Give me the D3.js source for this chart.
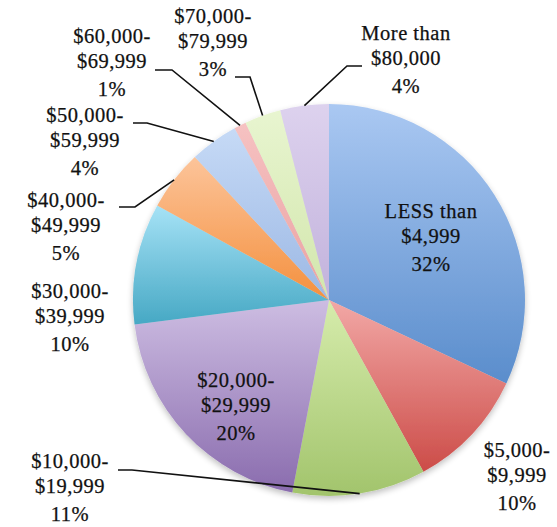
<!DOCTYPE html>
<html>
<head>
<meta charset="utf-8">
<script src="https://cdn.jsdelivr.net/npm/d3@7"></script>
<style>
  body { margin: 0; background: #fff; }
  svg { display: block; }
  .lbl { font-family: "Liberation Serif", "Times New Roman", serif; font-size: 20.5px; letter-spacing: 0.5px; fill: #111; stroke: #111; stroke-width: 0.25px; }
</style>
</head>
<body>
<svg id="chart"></svg>
<script>
// income brackets, clockwise from 12 o'clock
const categories = ["LESS than $4,999", "$5,000-$9,999", "$10,000-$19,999", "$20,000-$29,999", "$30,000-$39,999",
  "$40,000-$49,999", "$50,000-$59,999", "$60,000-$69,999", "$70,000-$79,999", "More than $80,000"];
const values = [32, 10, 11, 20, 10, 5, 4, 1, 3, 4];
const labelLines = [
  ["LESS than", "$4,999", "32%"],
  ["$5,000-", "$9,999", "10%"],
  ["$10,000-", "$19,999", "11%"],
  ["$20,000-", "$29,999", "20%"],
  ["$30,000-", "$39,999", "10%"],
  ["$40,000-", "$49,999", "5%"],
  ["$50,000-", "$59,999", "4%"],
  ["$60,000-", "$69,999", "1%"],
  ["$70,000-", "$79,999", "3%"],
  ["More than", "$80,000", "4%"]
];
const lightColors = ["#aac8f2", "#f2a8a6", "#d6ecac", "#cdbde2", "#a6e2f6", "#fcc49a", "#c6daf6", "#f6c2c2", "#e8f5d0", "#ddd2ee"];
const darkColors  = ["#5a8dcc", "#cc4c48", "#a2c46c", "#8a6cae", "#46a8c4", "#f4903e", "#9cb8e4", "#eaa2a2", "#d2e6ac", "#c2b2dc"];

// label layout: text centre x, first baseline y, optional leader elbow [x0,y0,x1,y1]
const labelLayout = [
  { x: 431, y: 218, leader: null },
  { x: 517, y: 457, leader: null },
  { x: 70, y: 468, leader: [118, 470, 132, 470] },
  { x: 236, y: 387, leader: null },
  { x: 70, y: 298, leader: null },
  { x: 66, y: 207, leader: [119, 207, 135, 207] },
  { x: 85, y: 122, leader: [133, 123, 147, 123] },
  { x: 112, y: 43, leader: [155, 70, 172, 70] },
  { x: 213, y: 23, leader: [235, 77, 250, 77] },
  { x: 406, y: 40, leader: [362, 66, 347, 66] }
];

const width = 557, height = 527;
const cx = 329, cy = 300, r = 196;

const svg = d3.select("#chart").attr("width", width).attr("height", height);
const defs = svg.append("defs");

const shadow = defs.append("filter").attr("id", "pieShadow").attr("x", "-10%").attr("y", "-10%").attr("width", "120%").attr("height", "125%");
shadow.append("feGaussianBlur").attr("in", "SourceAlpha").attr("stdDeviation", 3);
shadow.append("feOffset").attr("dx", 0).attr("dy", 3).attr("result", "blur");
shadow.append("feComponentTransfer").append("feFuncA").attr("type", "linear").attr("slope", 0.25);
const merge = shadow.append("feMerge");
merge.append("feMergeNode");
merge.append("feMergeNode").attr("in", "SourceGraphic");

values.forEach((v, i) => {
  const g = defs.append("linearGradient").attr("id", `grad${i}`).attr("x1", 0).attr("y1", 0).attr("x2", 0).attr("y2", 1);
  g.append("stop").attr("offset", "0%").attr("stop-color", lightColors[i]);
  g.append("stop").attr("offset", "100%").attr("stop-color", darkColors[i]);
});

const pie = d3.pie().sort(null).value(d => d);
const arcs = pie(values);
const arc = d3.arc().innerRadius(0).outerRadius(r);

const root = svg.append("g").attr("transform", `translate(${cx},${cy})`);
root.append("g").attr("filter", "url(#pieShadow)")
  .selectAll("path.slice").data(arcs).join("path")
  .attr("class", "slice")
  .attr("d", arc)
  .attr("fill", (d, i) => `url(#grad${i})`);

// leader lines: from elbow to the slice edge at its mid angle
const edgePoint = d => {
  const a = (d.startAngle + d.endAngle) / 2;
  return [cx + r * Math.sin(a), cy - r * Math.cos(a)];
};
svg.append("g").selectAll("path.leader").data(arcs.filter((d, i) => labelLayout[i].leader)).join("path")
  .attr("class", "leader")
  .attr("fill", "none").attr("stroke", "#111").attr("stroke-width", 1.6)
  .attr("d", d => {
    const L = labelLayout[d.index].leader;
    const p = edgePoint(d);
    return `M${L[0]},${L[1]}L${L[2]},${L[3]}L${p[0]},${p[1]}`;
  });

const lineOffsets = [0, 25, 53];
const labels = svg.append("g").selectAll("text.lbl").data(arcs).join("text")
  .attr("class", "lbl")
  .attr("text-anchor", "middle");
labels.each(function(d) {
  const pos = labelLayout[d.index];
  d3.select(this).selectAll("tspan").data(labelLines[d.index]).join("tspan")
    .attr("x", pos.x).attr("y", (t, k) => pos.y + lineOffsets[k]).text(t => t);
});
</script>
</body>
</html>
